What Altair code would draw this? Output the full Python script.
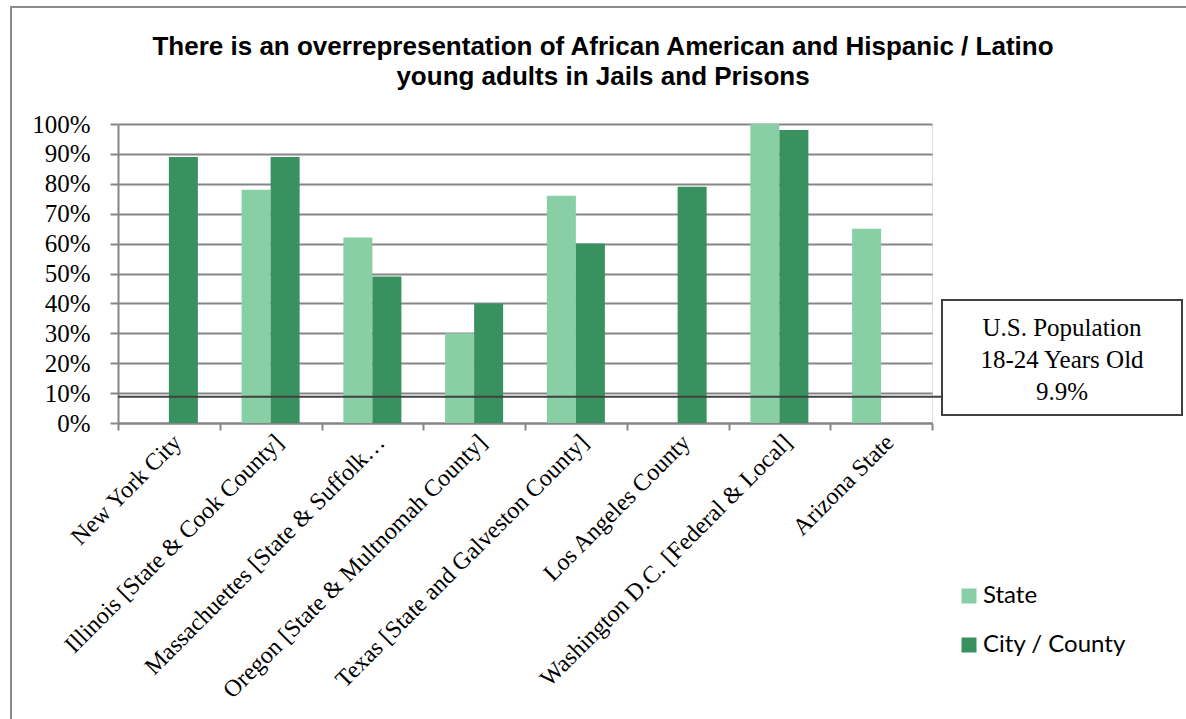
import altair as alt
import pandas as pd

# ---- data ----
categories = [
    "New York City",
    "Illinois [State & Cook County]",
    "Massachuettes [State & Suffolk…",
    "Oregon [State & Multnomah County]",
    "Texas [State and Galveston County]",
    "Los Angeles County",
    "Washington D.C. [Federal & Local]",
    "Arizona State",
]
state_values = [None, 78, 62, 30, 76, None, 100, 65]
city_values = [89, 89, 49, 40, 60, 79, 98, None]
series_names = ["State", "City / County"]
series_colors = ["#88CFA5", "#3A9160"]
y_ticks = [0, 10, 20, 30, 40, 50, 60, 70, 80, 90, 100]
us_population_line = [8.8]
annotation_lines = ["U.S. Population", "18-24 Years Old", "9.9%"]
title_lines = [
    "There is an overrepresentation of African American and Hispanic / Latino",
    "young adults in Jails and Prisons",
]

rows = []
for cat, s, c in zip(categories, state_values, city_values):
    if s is not None:
        rows.append({"region": cat, "series": series_names[0], "value": s})
    if c is not None:
        rows.append({"region": cat, "series": series_names[1], "value": c})
df = pd.DataFrame(rows)

W, H = 814, 299
GRAY = "#868686"
SERIF = "Liberation Serif"

y_axis = alt.Axis(
    title=None,
    values=y_ticks,
    labelOverlap=False,
    labelExpr="datum.value + '%'",
    labelFont=SERIF,
    labelFontSize=25,
    labelColor="black",
    labelPadding=20,
    tickSize=8,
    tickColor=GRAY,
    tickWidth=2,
    domainColor=GRAY,
    domainWidth=2,
    grid=True,
    gridColor=GRAY,
    gridWidth=2,
)
y_scale = alt.Scale(domain=[0, 100], nice=False)

bars = alt.Chart(df).mark_bar().encode(
    x=alt.X(
        "region:N",
        sort=categories,
        scale=alt.Scale(domain=categories, paddingInner=0, paddingOuter=0),
        axis=alt.Axis(
            title=None,
            labelAngle=-45,
            labelFont=SERIF,
            labelFontSize=24,
            labelColor="black",
            labelLimit=1000,
            labelPadding=0,
            tickBand="extent",
            tickSize=7,
            tickColor=GRAY,
            tickWidth=2,
            domainColor=GRAY,
            domainWidth=2,
            grid=False,
        ),
    ),
    xOffset=alt.XOffset(
        "series:N",
        scale=alt.Scale(domain=series_names, paddingInner=0, paddingOuter=0.754),
    ),
    y=alt.Y("value:Q", scale=y_scale, axis=y_axis),
    color=alt.Color(
        "series:N",
        sort=series_names,
        scale=alt.Scale(domain=series_names, range=series_colors),
        legend=alt.Legend(
            title=None,
            orient="none",
            legendX=839,
            legendY=460,
            padding=0,
            symbolType="square",
            symbolSize=225,
            symbolStrokeWidth=0,
            labelFont="Lato",
            labelFontSize=24,
            labelColor="black",
            labelOffset=2,
            rowPadding=25,
        ),
    ),
)

rule_df = pd.DataFrame({"value": us_population_line})
rule = alt.Chart(rule_df).mark_rule(color="#404040", strokeWidth=2).encode(
    y=alt.Y("value:Q", scale=y_scale, axis=y_axis), x=alt.value(0), x2=alt.value(824)
)

one = pd.DataFrame({"k": [0]})
box = alt.Chart(one).mark_rect(fill="white", stroke="#404040", strokeWidth=2).encode(
    x=alt.value(824), x2=alt.value(1064), y=alt.value(176), y2=alt.value(291)
)
box_text = alt.Chart(one).mark_text(
    font=SERIF, fontSize=25, color="black", align="center", baseline="middle",
    lineBreak="\n", lineHeight=32,
).encode(
    x=alt.value(944), y=alt.value(204), text=alt.value("\n".join(annotation_lines))
)

frame = alt.Chart(one).mark_rect(fill="transparent", stroke="#8c8c8c", strokeWidth=2).encode(
    x=alt.value(-107), x2=alt.value(1100), y=alt.value(-117), y2=alt.value(620)
)

chart = alt.layer(frame, bars, rule, box, box_text).properties(
    width=W,
    height=H,
    padding={"left": 118, "top": 124, "right": 254, "bottom": 296},
    autosize=alt.AutoSizeParams(type="none"),
    title=alt.TitleParams(
        text=title_lines,
        font="Liberation Sans",
        fontSize=26,
        fontWeight="bold",
        color="black",
        anchor="middle",
        frame="group",
        dx=78,
        offset=-84,
        lineHeight=30,
    ),
).configure_view(strokeWidth=0).configure(background="white")

chart.save("out.html", embed_options={"renderer": "svg", "actions": False})
